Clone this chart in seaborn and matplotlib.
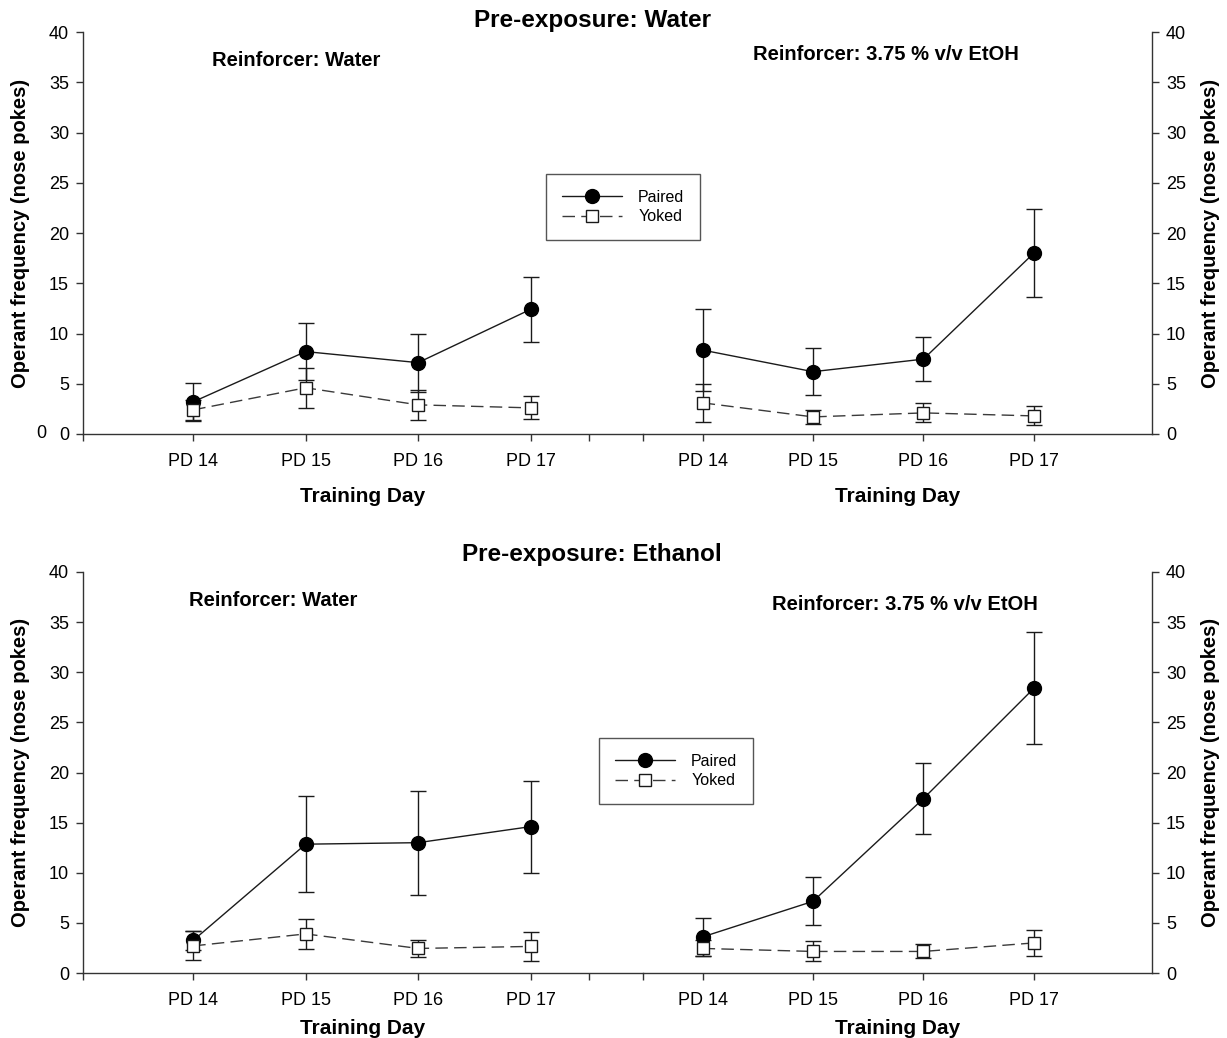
import matplotlib
matplotlib.use("Agg")
import numpy as np
import pandas as pd
import matplotlib.pyplot as plt
import seaborn as sns

sns.set_style("ticks")
plt.rcParams["font.family"] = ["Liberation Sans", "DejaVu Sans"]
plt.rcParams.update({"text.color": "black", "axes.labelcolor": "black",
                     "xtick.color": "black", "ytick.color": "black"})

days = ["PD 14", "PD 15", "PD 16", "PD 17"]
day_pos = [1, 2, 3, 4]

# means and SEM
ww_paired = [3.2, 8.2, 7.1, 12.4]
ww_paired_err = [1.9, 2.8, 2.9, 3.2]
ww_yoked = [2.4, 4.6, 2.9, 2.6]
ww_yoked_err = [1.0, 2.0, 1.5, 1.15]

we_paired = [8.35, 6.2, 7.45, 18.0]
we_paired_err = [4.1, 2.35, 2.2, 4.4]
we_yoked = [3.1, 1.7, 2.1, 1.8]
we_yoked_err = [1.9, 0.7, 0.95, 0.95]

ew_paired = [3.25, 12.85, 13.0, 14.6]
ew_paired_err = [0.95, 4.8, 5.2, 4.6]
ew_yoked = [2.7, 3.9, 2.45, 2.65]
ew_yoked_err = [1.45, 1.5, 0.85, 1.45]

ee_paired = [3.6, 7.15, 17.4, 28.4]
ee_paired_err = [1.9, 2.4, 3.5, 5.6]
ee_yoked = [2.45, 2.15, 2.15, 3.0]
ee_yoked_err = [0.8, 1.0, 0.7, 1.3]

YLABEL = "Operant frequency (nose pokes)"
W, H = 1227, 1038


def draw_panel(ax, paired, paired_err, yoked, yoked_err, xpad):
    df = pd.DataFrame({"day": day_pos, "paired": paired, "paired_err": paired_err,
                       "yoked": yoked, "yoked_err": yoked_err})
    ax.errorbar(df["day"], df["paired"], yerr=df["paired_err"], fmt="none",
                ecolor="#1a1a1a", elinewidth=1, capsize=6, capthick=1, zorder=2)
    ax.errorbar(df["day"], df["yoked"], yerr=df["yoked_err"], fmt="none",
                ecolor="#1a1a1a", elinewidth=1, capsize=6, capthick=1, zorder=2)
    sns.lineplot(data=df, x="day", y="paired", ax=ax, color="#1a1a1a", lw=1,
                 marker="o", markersize=10, markerfacecolor="black",
                 markeredgecolor="black", markeredgewidth=1, label="Paired", zorder=3)
    sns.lineplot(data=df, x="day", y="yoked", ax=ax, color="#3a3a3a", lw=1,
                 marker="s", markersize=8, markerfacecolor="white",
                 markeredgecolor="#1a1a1a", markeredgewidth=1, label="Yoked",
                 dashes=False, linestyle=(0, (9, 4.5)), zorder=4)
    ax.set_ylim(0, 40)
    ax.set_yticks(np.arange(0, 41, 5))
    ax.set_ylabel("")
    ax.set_xlabel("Training Day", fontsize=15, fontweight="bold", labelpad=xpad)
    for s in ["left", "right", "bottom", "top"]:
        ax.spines[s].set_linewidth(1)
        ax.spines[s].set_color("#333333")
    ax.tick_params(axis="both", labelsize=13, length=5, width=1, color="#333333", pad=5)
    ax.tick_params(axis="x", pad=9)
    ax.set_facecolor("none")


def px(x0, y0, x1, y1):
    return [x0 / W, 1 - y1 / H, (x1 - x0) / W, (y1 - y0) / H]


fig = plt.figure(figsize=(W / 100, H / 100), dpi=100)

rows = [
    (32, 434, "Pre-exposure: Water", 20, (ww_paired, ww_paired_err, ww_yoked, ww_yoked_err),
     (we_paired, we_paired_err, we_yoked, we_yoked_err), (296, 61), (886, 55), (623, 207), 12),
    (572, 973, "Pre-exposure: Ethanol", 555, (ew_paired, ew_paired_err, ew_yoked, ew_yoked_err),
     (ee_paired, ee_paired_err, ee_yoked, ee_yoked_err), (273, 601), (905, 605), (676, 771), 7),
]

for (ytop, ybot, title, ty, left_data, right_data, lpos, rpos, legpos, xpad) in rows:
    axl = fig.add_axes(px(83, ytop, 643, ybot))
    axr = fig.add_axes(px(643, ytop, 1152, ybot))

    draw_panel(axl, *left_data, xpad)
    draw_panel(axr, *right_data, xpad)

    # left panel
    axl.set_xlim(0.02, 5.0)
    axl.set_xticks([0.02, 1, 2, 3, 4, 4.52])
    axl.set_xticklabels([""] + days + [""])
    axl.spines["top"].set_visible(False)
    axl.spines["right"].set_visible(False)
    axl.set_ylabel(YLABEL, fontsize=14.5, fontweight="bold")
    axl.yaxis.set_label_coords(-0.095, 0.5)

    # right panel
    axr.set_xlim(0.46, 5.07)
    axr.set_xticks([0.46, 1, 2, 3, 4])
    axr.set_xticklabels([""] + days)
    axr.spines["top"].set_visible(False)
    axr.spines["left"].set_visible(False)
    axr.yaxis.tick_right()
    axr.yaxis.set_label_position("right")
    axr.set_ylabel(YLABEL, fontsize=14.5, fontweight="bold")
    axr.yaxis.set_label_coords(1.096, 0.5)

    handles, labels = axl.get_legend_handles_labels()
    axl.get_legend().remove()
    axr.get_legend().remove()
    fig.legend(handles, labels, loc="center",
               bbox_to_anchor=(legpos[0] / W, 1 - legpos[1] / H),
               fontsize=11.5, frameon=True, fancybox=False, framealpha=1,
               edgecolor="#555555", handlelength=3.8, borderpad=1.0,
               labelspacing=0.3, handletextpad=1.0, borderaxespad=0)

    fig.text(592 / W, 1 - ty / H, title, ha="center", va="center",
             fontsize=17.5, fontweight="bold")
    fig.text(lpos[0] / W, 1 - lpos[1] / H, "Reinforcer: Water", ha="center",
             va="center", fontsize=14.5, fontweight="bold")
    fig.text(rpos[0] / W, 1 - rpos[1] / H, "Reinforcer: 3.75 % v/v EtOH",
             ha="center", va="center", fontsize=14.5, fontweight="bold")

# stray zero next to the top-left axis
fig.text(41 / W, 1 - 434 / H, "0", ha="center", va="center", fontsize=13)

fig.savefig("out.png", dpi=100)
